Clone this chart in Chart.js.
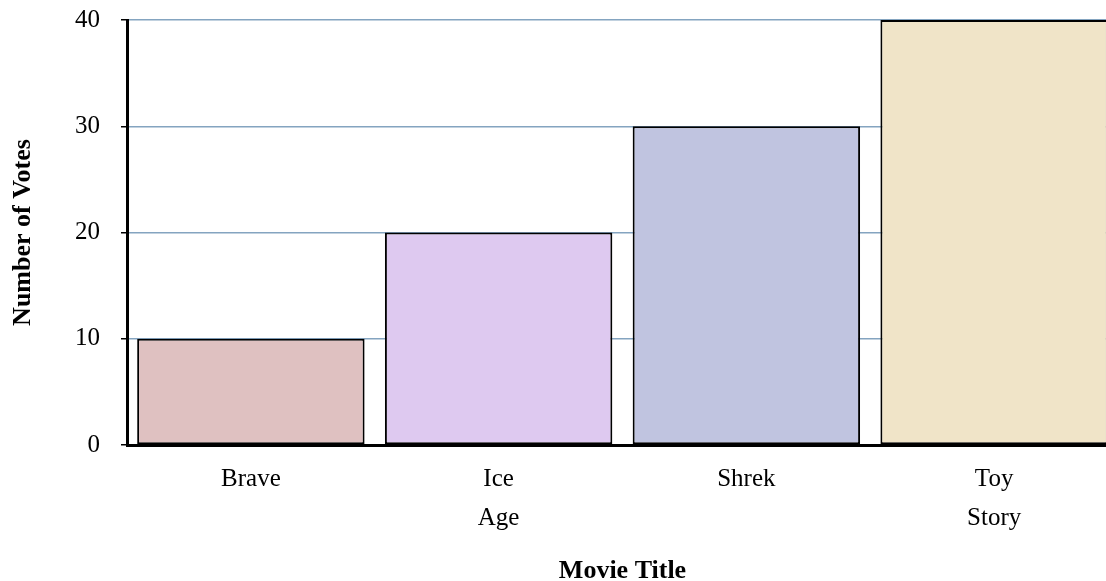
<!DOCTYPE html>
<html>
<head>
<meta charset="utf-8">
<script src="https://cdn.jsdelivr.net/npm/chart.js@4/dist/chart.umd.min.js"></script>
<style>
  html, body { margin: 0; padding: 0; background: #fff; overflow: hidden; }
  #wrap { width: 1118px; height: 581px; }
</style>
</head>
<body>
<div id="wrap"><canvas id="myChart"></canvas></div>
<script>
// chart data
var movies = ['Brave', ['Ice', 'Age'], 'Shrek', ['Toy', 'Story']];
var votes = [10, 20, 30, 40];
var barColors = ['#dfc1c1', '#dec9f0', '#c0c4e0', '#f0e4c8'];
var yTitle = 'Number of Votes';
var xTitle = 'Movie Title';

document.addEventListener('DOMContentLoaded', function () {
    var ctx = document.getElementById('myChart').getContext('2d');
    var serif = '"Liberation Serif", "Times New Roman", serif';

    new Chart(ctx, {
        type: 'bar',
        data: {
            labels: movies,
            datasets: [{
                data: votes,
                backgroundColor: barColors,
                borderColor: '#000',
                borderWidth: 2,
                borderSkipped: false,
                categoryPercentage: 1,
                barPercentage: 0.918
            }]
        },
        options: {
            responsive: true,
            maintainAspectRatio: false,
            animation: false,
            layout: { padding: { top: 20, left: 0, right: 0, bottom: 0 } },
            plugins: {
                legend: { display: false },
                tooltip: { enabled: false }
            },
            scales: {
                x: {
                    grid: { drawOnChartArea: false, drawTicks: false },
                    border: { color: '#000', width: 3 },
                    ticks: {
                        color: '#000',
                        padding: 15,
                        maxRotation: 0,
                        font: { family: serif, size: 25, lineHeight: 1.56 }
                    },
                    title: {
                        display: true,
                        text: xTitle,
                        color: '#000',
                        padding: { top: 0, bottom: -3 },
                        font: { family: serif, size: 26, weight: 'bold', lineHeight: 1 }
                    },
                    afterFit: function (scale) {
                        scale.height = 136;
                        scale.paddingTop = 0;
                    }
                },
                y: {
                    min: 0,
                    max: 40,
                    ticks: {
                        stepSize: 10,
                        color: '#000',
                        padding: 21,
                        font: { family: serif, size: 25 }
                    },
                    grid: { color: '#84a4c0', lineWidth: 1.5, tickColor: '#000', tickLength: 6 },
                    border: { color: '#000', width: 3 },
                    title: {
                        display: true,
                        text: yTitle,
                        color: '#000',
                        padding: { top: 10, bottom: 0 },
                        font: { family: serif, size: 26, weight: 'bold', lineHeight: 1 }
                    },
                    afterFit: function (scale) {
                        scale.width = 127;
                        scale.paddingTop = 0;
                    }
                }
            }
        }
    });
});
</script>
</body>
</html>
